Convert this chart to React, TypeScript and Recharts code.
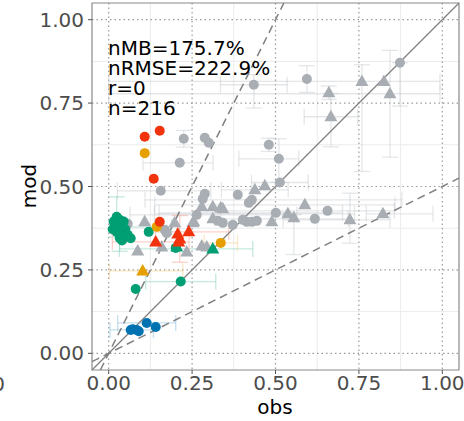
import { ScatterChart, Scatter, XAxis, YAxis, CartesianGrid, ErrorBar, ReferenceLine, ReferenceArea } from 'recharts';

type Pt = { x: number; y: number; ex?: number | number[]; ey?: number | number[] };

const majorTicks = [0, 0.25, 0.5, 0.75, 1];
const minorTicks = [0.125, 0.375, 0.625, 0.875];
const statLines = ['nMB=175.7%', 'nRMSE=222.9%', 'r=0', 'n=216'];

const grayCircles: Pt[] = [
  { x: 0.873, y: 0.871, ey: [0.13, 0] },
  { x: 0.594, y: 0.822, ey: 0.04 },
  { x: 0.435, y: 0.805, ex: 0.1, ey: [0.07, 0.03] },
  { x: 0.48, y: 0.625, ey: 0.02 },
  { x: 0.51, y: 0.583, ex: [0.12, 0.06], ey: [0.07, 0.06] },
  { x: 0.513, y: 0.512, ex: 0.085 },
  { x: 0.225, y: 0.643, ey: 0.025 },
  { x: 0.288, y: 0.646 },
  { x: 0.3, y: 0.631 },
  { x: 0.213, y: 0.571, ex: [0.11, 0.1] },
  { x: 0.156, y: 0.487, ex: [0.13, 0.15] },
  { x: 0.387, y: 0.475 },
  { x: 0.429, y: 0.46, ex: [0.32, 0.45] },
  { x: 0.42, y: 0.451 },
  { x: 0.288, y: 0.478 },
  { x: 0.282, y: 0.463 },
  { x: 0.264, y: 0.415, ex: [0.2, 0.3] },
  { x: 0.327, y: 0.397 },
  { x: 0.342, y: 0.391 },
  { x: 0.372, y: 0.385 },
  { x: 0.402, y: 0.4 },
  { x: 0.414, y: 0.394 },
  { x: 0.429, y: 0.394 },
  { x: 0.444, y: 0.397 },
  { x: 0.501, y: 0.421, ex: [0.35, 0.2] },
  { x: 0.618, y: 0.403, ex: [0.3, 0.1] },
  { x: 0.656, y: 0.427, ex: [0.32, 0.2] },
  { x: 0.057, y: 0.388 },
  { x: 0.168, y: 0.37 },
  { x: 0.174, y: 0.36 },
];

const grayTriangles: Pt[] = [
  { x: 0.759, y: 0.815, ex: [0.759, 0.234], ey: [0.27, 0.05] },
  { x: 0.825, y: 0.815 },
  { x: 0.843, y: 0.778, ex: [0.843, 0.15], ey: [0.19, 0.13] },
  { x: 0.66, y: 0.781, ey: 0.02 },
  { x: 0.666, y: 0.709, ex: 0.08, ey: [0.09, 0.07] },
  { x: 0.468, y: 0.502 },
  { x: 0.438, y: 0.49, ex: 0.1 },
  { x: 0.279, y: 0.439 },
  { x: 0.312, y: 0.439 },
  { x: 0.336, y: 0.436 },
  { x: 0.342, y: 0.433 },
  { x: 0.255, y: 0.394 },
  { x: 0.312, y: 0.403 },
  { x: 0.489, y: 0.394 },
  { x: 0.537, y: 0.418, ex: [0.4, 0.2] },
  { x: 0.555, y: 0.406, ey: [0.11, 0.01] },
  { x: 0.588, y: 0.445, ex: [0.45, 0.27] },
  { x: 0.723, y: 0.4, ex: [0.2, 0.12], ey: [0.07, 0.08] },
  { x: 0.822, y: 0.418, ex: [0.05, 0.15] },
  { x: 0.108, y: 0.394 },
  { x: 0.198, y: 0.391 },
  { x: 0.252, y: 0.391 },
  { x: 0.087, y: 0.307 },
  { x: 0.234, y: 0.304 },
  { x: 0.159, y: 0.319 },
  { x: 0.279, y: 0.322 },
  { x: 0.294, y: 0.319 },
];

const greenCircles: Pt[] = [
  { x: 0.024, y: 0.409, ey: 0.06 },
  { x: 0.033, y: 0.4 },
  { x: 0.018, y: 0.385 },
  { x: 0.039, y: 0.379, ex: [0.03, 0.15] },
  { x: 0.024, y: 0.364 },
  { x: 0.057, y: 0.355 },
  { x: 0.033, y: 0.346, ey: [0.04, 0.03] },
  { x: 0.015, y: 0.395 },
  { x: 0.045, y: 0.395 },
  { x: 0.012, y: 0.372 },
  { x: 0.05, y: 0.372 },
  { x: 0.036, y: 0.358 },
  { x: 0.066, y: 0.345 },
  { x: 0.04, y: 0.338 },
  { x: 0.12, y: 0.364 },
  { x: 0.201, y: 0.316 },
  { x: 0.081, y: 0.193 },
  { x: 0.216, y: 0.215, ex: 0.105 },
];

const greenTriangles: Pt[] = [
  { x: 0.312, y: 0.313, ex: [0.28, 0.12] },
  { x: 0.204, y: 0.319 },
];

const redCircles: Pt[] = [
  { x: 0.108, y: 0.649 },
  { x: 0.153, y: 0.667 },
  { x: 0.135, y: 0.523 },
  { x: 0.153, y: 0.394 },
];

const redTriangles: Pt[] = [
  { x: 0.141, y: 0.334, ex: [0.13, 0.1] },
  { x: 0.207, y: 0.358 },
  { x: 0.213, y: 0.343, ey: 0.07 },
  { x: 0.24, y: 0.364, ex: [0.1, 0.12] },
  { x: 0.21, y: 0.334 },
];

const orangeCircles: Pt[] = [
  { x: 0.108, y: 0.6 },
  { x: 0.144, y: 0.379 },
  { x: 0.336, y: 0.331, ex: 0.05 },
];

const orangeTriangles: Pt[] = [{ x: 0.102, y: 0.247, ex: [0.1, 0.12] }];

const blueCircles: Pt[] = [
  { x: 0.066, y: 0.07 },
  { x: 0.072, y: 0.072 },
  { x: 0.084, y: 0.07, ex: [0.08, 0.05] },
  { x: 0.09, y: 0.066 },
  { x: 0.114, y: 0.091, ex: 0.087 },
  { x: 0.141, y: 0.079 },
];

const circle = (fill: string) => (p: any) => <circle cx={p.cx} cy={p.cy} r={5} fill={fill} />;
const triangle = (fill: string) => (p: any) => (
  <polygon
    points={`${p.cx},${p.cy - 7} ${p.cx - 6.5},${p.cy + 4.5} ${p.cx + 6.5},${p.cy + 4.5}`}
    fill={fill}
  />
);

const series = [
  { data: grayCircles, shape: circle('#a9aeb4'), bar: '#c4c8cd' },
  { data: grayTriangles, shape: triangle('#a9aeb4'), bar: '#c4c8cd' },
  { data: greenCircles, shape: circle('#009E73'), bar: '#7fcfb9' },
  { data: greenTriangles, shape: triangle('#009E73'), bar: '#7fcfb9' },
  { data: orangeCircles, shape: circle('#E69F00'), bar: '#f3cf80' },
  { data: orangeTriangles, shape: triangle('#E69F00'), bar: '#f3cf80' },
  { data: redCircles, shape: circle('#f2340e'), bar: '#f8998a' },
  { data: redTriangles, shape: triangle('#f2340e'), bar: '#f8998a' },
  { data: blueCircles, shape: circle('#0072B2'), bar: '#80b9d9' },
];

const fmt = (v: number) => v.toFixed(2);
const tickStyle = { fontSize: 20, fill: '#4d4d4d', fontFamily: 'DejaVu Sans' };

export default function App() {
  return (
    <div style={{ position: 'absolute', left: 0, top: 0, width: 464, height: 421, background: '#fff' }}>
      <ScatterChart width={464} height={421} margin={{ top: 3, right: 5, bottom: 0, left: 0 }}>
        <CartesianGrid
          verticalValues={minorTicks}
          horizontalValues={minorTicks}
          stroke="#ebebeb"
          strokeWidth={1}
        />
        <CartesianGrid
          verticalValues={majorTicks}
          horizontalValues={majorTicks}
          stroke="#9a9a9a"
          strokeDasharray="1.5 3"
          strokeWidth={1.2}
        />
        <XAxis
          type="number"
          dataKey="x"
          domain={[-0.05, 1.05]}
          ticks={majorTicks}
          tickFormatter={fmt}
          allowDataOverflow
          height={51}
          axisLine={false}
          tickSize={4}
          tickMargin={2}
          tickLine={{ stroke: '#555' }}
          tick={tickStyle}
        />
        <YAxis
          type="number"
          dataKey="y"
          domain={[-0.05, 1.05]}
          ticks={majorTicks}
          tickFormatter={fmt}
          allowDataOverflow
          width={92}
          axisLine={false}
          tickSize={4}
          tickMargin={4}
          tickLine={{ stroke: '#555' }}
          tick={tickStyle}
        />
        {series.map((s, i) => (
          <Scatter key={i} data={s.data} shape={s.shape} isAnimationActive={false}>
            <ErrorBar dataKey="ex" direction="x" stroke={s.bar} strokeOpacity={0.45} strokeWidth={1.3} width={8} isAnimationActive={false} />
            <ErrorBar dataKey="ey" direction="y" stroke={s.bar} strokeOpacity={0.45} strokeWidth={1.3} width={8} isAnimationActive={false} />
          </Scatter>
        ))}
        <ReferenceLine segment={[{ x: -0.05, y: -0.05 }, { x: 1.05, y: 1.05 }]} stroke="#808080" strokeWidth={1.3} />
        <ReferenceLine segment={[{ x: -0.025, y: -0.05 }, { x: 0.525, y: 1.05 }]} stroke="#808080" strokeWidth={1.5} strokeDasharray="8 5" />
        <ReferenceLine segment={[{ x: -0.05, y: -0.025 }, { x: 1.05, y: 0.525 }]} stroke="#808080" strokeWidth={1.5} strokeDasharray="8 5" />
        <ReferenceArea x1={-0.05} x2={1.05} y1={-0.05} y2={1.05} fill="none" stroke="#8a8a8a" strokeWidth={1.2} />
      </ScatterChart>
      <svg
        width={464}
        height={421}
        style={{ position: 'absolute', left: 0, top: 0, pointerEvents: 'none' }}
        fontFamily="DejaVu Sans"
      >
        {statLines.map((t, i) => (
          <text key={t} x={108} y={55 + i * 20} fontSize={20} fill="#000">
            {t}
          </text>
        ))}
        <text x={275} y={414} fontSize={20} fill="#000" textAnchor="middle">
          obs
        </text>
        <text x={36} y={186} fontSize={20} fill="#000" textAnchor="middle" transform="rotate(-90 36 186)">
          mod
        </text>
        <text x={5} y={391} fontSize={20} fill="#4d4d4d" textAnchor="end">
          1.00
        </text>
      </svg>
    </div>
  );
}
